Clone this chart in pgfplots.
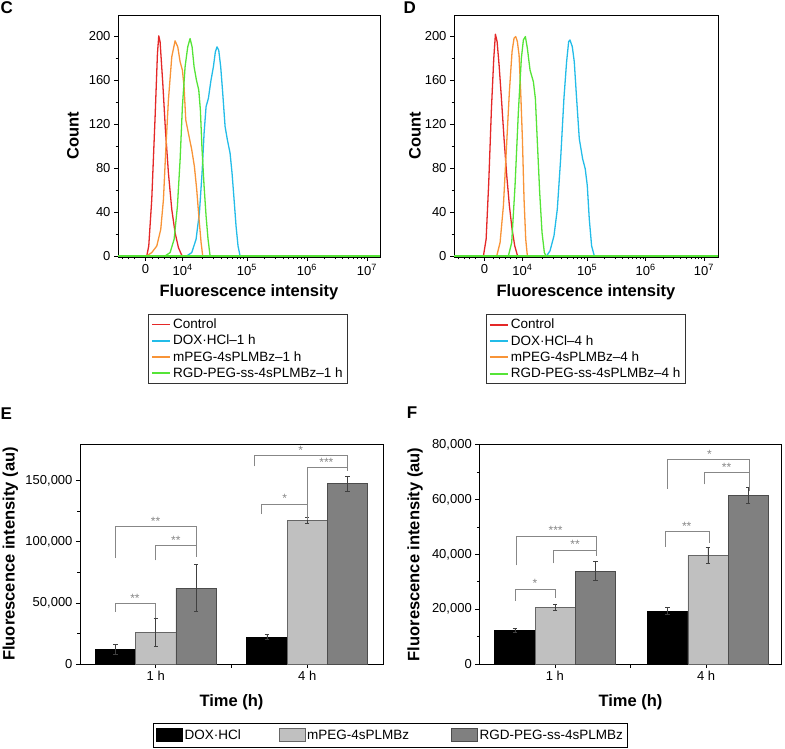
\documentclass[border=0pt]{standalone}
\usepackage{fontspec}
\setmainfont{Liberation Sans}
\usepackage{pgfplots}
\pgfplotsset{compat=1.18}
\definecolor{cRed}{RGB}{228,40,40}
\definecolor{cBlue}{RGB}{35,188,232}
\definecolor{cOrange}{RGB}{248,148,55}
\definecolor{cGreen}{RGB}{85,228,55}
\definecolor{cLight}{RGB}{192,192,192}
\definecolor{cDark}{RGB}{128,128,128}
\definecolor{cBr}{RGB}{135,135,135}
\begin{document}
\begin{tikzpicture}
\useasboundingbox (0pt,0pt) rectangle (785pt,749pt);
\pgfplotsset{
  common/.style={
    scale only axis, anchor=south west,
    /pgf/number format/assume math mode=true,
    tick align=outside, tick pos=left,
    axis line style={black, line width=0.8pt},
    tick style={black, line width=0.6pt},
    major tick length=4pt, minor tick length=2.5pt,
    ticklabel style={font=\fontsize{13}{15}\selectfont},
    label style={font=\fontsize{16.5}{18}\selectfont\bfseries},
  },
  hist/.style={common,
    ymin=-1, ymax=219, ytick={0,40,80,120,160,200}, minor y tick num=1,
    xticklabels={0,10\textsuperscript{4},10\textsuperscript{5},10\textsuperscript{6},10\textsuperscript{7}},
    ylabel={Count}, xlabel={Fluorescence intensity},
    legend cell align=left,
    legend image code/.code={\draw[#1, line width=1.8pt, line cap=butt] (0pt,0pt) -- (18pt,0pt);},
    legend style={anchor=north west, draw=black!80, line width=0.6pt,
      font=\fontsize{13.5}{16}\selectfont, inner xsep=3pt, inner ysep=2.5pt,
      row sep=1pt},
  },
  curve/.style={line width=1.3pt, line join=round},
  bars/.style={common, clip=false,
    xmin=0, xmax=2, xtick={0.5,1,1.5}, xticklabels={1 h,,4 h},
    minor y tick num=1, scaled y ticks=false,
    yticklabel style={/pgf/number format/.cd, fixed, 1000 sep={,}},
    xlabel={Time (h)}, ylabel={Fluorescence intensity (au)},
    error bars/error bar style={line width=0.6pt, black!75},
    error bars/error mark options={rotate=90, mark size=2.2pt, line width=0.6pt, black!75},
  },
  bk/.style={ybar, bar width=0.266, bar shift=0pt, fill=black, draw=black, line width=0.5pt},
  lt/.style={ybar, bar width=0.266, bar shift=0pt, fill=cLight, draw=black!60, line width=0.5pt},
  dk/.style={ybar, bar width=0.266, bar shift=0pt, fill=cDark, draw=black!70, line width=0.5pt},
  br/.style={cBr, line width=0.7pt, forget plot},
}
% ---------------- Panel C ----------------
\begin{axis}[hist, at={(118pt,492pt)}, width=262pt, height=242pt,
  xmin=2.92, xmax=7.29, xtick={3.38,4,5.07,6.07,7.07},
  minor xtick={3.0,3.1,3.2,3.5,3.6,3.7,3.8,3.9,4.321,4.509,4.642,4.746,4.830,4.902,4.963,5.018,5.368,5.544,5.669,5.766,5.845,5.912,5.970,6.021,6.368,6.544,6.669,6.766,6.845,6.912,6.970,7.021},
  xlabel style={at={(axis description cs:0.5,-0.164)}, anchor=base},
  ylabel style={at={(axis description cs:-0.172,0.5)}, anchor=center},
  legend style={at={(axis description cs:0.1145,-0.2355)}},
]
\addplot[curve, cRed] coordinates {(3.400,0)(3.433,9.0)(3.483,51.3)(3.539,126.7)(3.578,184.0)(3.600,200.0)(3.622,194.6)(3.667,156.9)(3.711,114.6)(3.761,75.4)(3.817,42.2)(3.872,21.1)(3.928,7.5)(3.983,0.6)(4.0,0)};
\addlegendentry{Control}
\addplot[curve, cBlue] coordinates {(4.067,0)(4.150,3.0)(4.222,15.1)(4.278,39.2)(4.322,75.4)(4.356,111.6)(4.389,135.7)(4.428,143.3)(4.467,158.4)(4.511,171.9)(4.544,185.5)(4.572,190.0)(4.600,187.0)(4.633,171.9)(4.667,147.8)(4.706,117.6)(4.744,105.6)(4.789,93.5)(4.822,75.4)(4.856,51.3)(4.889,27.1)(4.922,9.0)(4.956,0)};
\addlegendentry{DOX·HCl–1 h}
\addplot[curve, cOrange] coordinates {(3.400,0)(3.483,3.0)(3.567,9.0)(3.633,24.1)(3.678,51.3)(3.717,96.5)(3.761,141.8)(3.817,181.0)(3.872,195.5)(3.917,190.0)(3.956,176.5)(3.994,168.9)(4.022,153.8)(4.050,123.7)(4.094,111.6)(4.150,96.5)(4.194,81.4)(4.233,60.3)(4.272,33.2)(4.306,12.1)(4.333,0)};
\addlegendentry{mPEG-4sPLMBz–1 h}
\addplot[curve, cGreen] coordinates {(3.706,0)(3.789,3.0)(3.856,15.1)(3.911,45.2)(3.956,87.5)(3.994,135.7)(4.039,171.9)(4.083,190.0)(4.122,197.6)(4.156,190.0)(4.189,171.9)(4.228,159.9)(4.267,150.8)(4.294,132.7)(4.322,96.5)(4.356,63.3)(4.389,36.2)(4.422,15.1)(4.456,0)};
\addlegendentry{RGD-PEG-ss-4sPLMBz–1 h}
\addplot[cGreen, line width=1.6pt, forget plot] coordinates {(2.92,0)(7.29,0)};
\end{axis}
% ---------------- Panel D ----------------
\begin{axis}[hist, at={(454pt,492pt)}, width=264pt, height=242pt,
  xmin=2.83, xmax=7.35, xtick={3.35,4,5.11,6.11,7.11},
  minor xtick={2.9,3.0,3.1,3.2,3.5,3.6,3.7,3.8,3.9,4.334,4.529,4.668,4.776,4.864,4.938,5.002,5.059,5.411,5.587,5.712,5.809,5.888,5.955,6.013,6.064,6.411,6.587,6.712,6.809,6.888,6.955,7.013,7.064},
  xlabel style={at={(axis description cs:0.5,-0.164)}, anchor=base},
  ylabel style={at={(axis description cs:-0.148,0.5)}, anchor=center},
  legend style={at={(axis description cs:0.12,-0.237)}},
]
\addplot[curve, cRed] coordinates {(3.334,0)(3.380,15.2)(3.425,67.0)(3.471,133.9)(3.511,179.6)(3.539,201.5)(3.568,194.8)(3.602,173.5)(3.642,143.1)(3.687,106.5)(3.733,73.1)(3.778,45.7)(3.824,24.4)(3.870,9.1)(3.915,0.6)(3.93,0)};
\addlegendentry{Control}
\addplot[curve, cBlue] coordinates {(4.417,0)(4.474,4.6)(4.542,18.3)(4.599,42.6)(4.656,88.3)(4.712,143.1)(4.758,176.6)(4.793,194.8)(4.815,196.3)(4.855,190.3)(4.889,176.6)(4.929,143.1)(4.975,106.5)(5.032,88.3)(5.077,79.1)(5.112,63.9)(5.146,33.5)(5.186,9.1)(5.232,0)};
\addlegendentry{DOX·HCl–4 h}
\addplot[curve, cOrange] coordinates {(3.562,0)(3.619,12.2)(3.676,45.7)(3.733,103.5)(3.778,149.2)(3.824,185.7)(3.858,197.9)(3.887,199.4)(3.915,194.8)(3.944,182.6)(3.972,149.2)(4.001,106.5)(4.029,51.8)(4.058,15.2)(4.086,0)};
\addlegendentry{mPEG-4sPLMBz–4 h}
\addplot[curve, cGreen] coordinates {(3.761,0)(3.818,12.2)(3.875,63.9)(3.932,130.9)(3.983,179.6)(4.018,196.3)(4.052,199.4)(4.086,188.7)(4.132,168.9)(4.189,158.3)(4.223,143.1)(4.257,103.5)(4.297,57.8)(4.337,21.3)(4.377,3.0)(4.405,0)};
\addlegendentry{RGD-PEG-ss-4sPLMBz–4 h}
\addplot[cGreen, line width=1.6pt, forget plot] coordinates {(2.83,0)(7.35,0)};
\end{axis}
% ---------------- Panel E ----------------
\begin{axis}[bars, at={(80pt,85pt)}, width=303pt, height=220pt,
  ymin=0, ymax=180000, ytick={0,50000,100000,150000},
  xlabel style={at={(axis description cs:0.5,-0.194)}, anchor=base},
  ylabel style={at={(axis description cs:-0.230,0.5)}, anchor=center},
  legend columns=3,
  legend image code/.code={\draw[#1] (0pt,-6.5pt) rectangle (26pt,6.5pt);},
  legend style={at={(axis description cs:0.24,-0.2695)}, anchor=north west,
    draw=black, line width=0.6pt, font=\fontsize{13.5}{16}\selectfont,
    inner xsep=3pt, inner ysep=4pt},
]
\addplot[bk, error bars/.cd, y dir=both, y explicit] coordinates {(0.234,12000) +- (0,4300) (1.233,22000) +- (0,2000)};
\addlegendentry{\makebox[92pt][l]{DOX·HCl}}
\addplot[lt, error bars/.cd, y dir=both, y explicit] coordinates {(0.5,26000) +- (0,11300) (1.5,117500) +- (0,2700)};
\addlegendentry{\makebox[142pt][l]{mPEG-4sPLMBz}}
\addplot[dk, error bars/.cd, y dir=both, y explicit] coordinates {(0.766,62000) +- (0,19200) (1.766,147500) +- (0,6000)};
\addlegendentry{RGD-PEG-ss-4sPLMBz}
\addplot[br] coordinates {(0.231,42900)(0.231,49700)(0.499,49700)(0.499,37700)};
\addplot[br] coordinates {(0.231,86600)(0.231,112600)(0.769,112600)(0.769,87200)};
\addplot[br] coordinates {(0.499,84700)(0.499,96700)(0.769,96700)};
\addplot[br] coordinates {(1.198,122700)(1.198,130900)(1.499,130900)(1.499,118000)};
\addplot[br] coordinates {(1.154,161700)(1.154,170500)(1.765,170500)(1.765,158200)};
\addplot[br] coordinates {(1.499,118000)(1.499,160900)(1.765,160900)};
\begin{scope}[every node/.style={cBr, font=\fontsize{12}{12}\selectfont, anchor=south, inner sep=1pt}]
\node at (axis cs:0.363,49700) {**};
\node at (axis cs:0.499,112600) {**};
\node at (axis cs:0.633,96700) {**};
\node at (axis cs:1.352,130900) {*};
\node at (axis cs:1.457,170500) {*};
\node at (axis cs:1.626,160900) {***};
\end{scope}
\end{axis}
% ---------------- Panel F ----------------
\begin{axis}[bars, at={(479.3pt,85pt)}, width=302.4pt, height=219.3pt,
  ymin=0, ymax=80000, ytick={0,20000,40000,60000,80000},
  xlabel style={at={(axis description cs:0.5,-0.195)}, anchor=base},
  ylabel style={at={(axis description cs:-0.212,0.5)}, anchor=center},
]
\addplot[bk, error bars/.cd, y dir=both, y explicit] coordinates {(0.235,12300) +- (0,800) (1.245,19300) +- (0,1300)};
\addplot[lt, error bars/.cd, y dir=both, y explicit] coordinates {(0.502,20700) +- (0,1250) (1.512,39600) +- (0,2900)};
\addplot[dk, error bars/.cd, y dir=both, y explicit] coordinates {(0.769,33900) +- (0,3500) (1.779,61500) +- (0,2900)};
\addplot[br] coordinates {(0.236,23000)(0.236,27400)(0.505,27400)(0.505,24000)};
\addplot[br] coordinates {(0.247,36000)(0.247,46700)(0.776,46700)(0.776,39500)};
\addplot[br] coordinates {(0.490,36700)(0.490,41600)(0.776,41600)};
\addplot[br] coordinates {(1.233,42800)(1.233,48300)(1.522,48300)(1.522,44000)};
\addplot[br] coordinates {(1.246,64000)(1.246,74700)(1.784,74700)(1.784,63100)};
\addplot[br] coordinates {(1.488,65500)(1.488,69800)(1.784,69800)};
\begin{scope}[every node/.style={cBr, font=\fontsize{12}{12}\selectfont, anchor=south, inner sep=1pt}]
\node at (axis cs:0.368,27400) {*};
\node at (axis cs:0.505,46700) {***};
\node at (axis cs:0.633,41600) {**};
\node at (axis cs:1.372,48300) {**};
\node at (axis cs:1.522,74700) {*};
\node at (axis cs:1.636,69800) {**};
\end{scope}
\end{axis}
% panel letters
\begin{scope}[every node/.style={font=\fontsize{17}{17}\selectfont\bfseries, anchor=base west, inner sep=0pt}]
\node at (0.5pt,735.5pt) {C};
\node at (403.3pt,735.5pt) {D};
\node at (0.5pt,329pt) {E};
\node at (406.7pt,330pt) {F};
\end{scope}
\end{tikzpicture}
\end{document}
